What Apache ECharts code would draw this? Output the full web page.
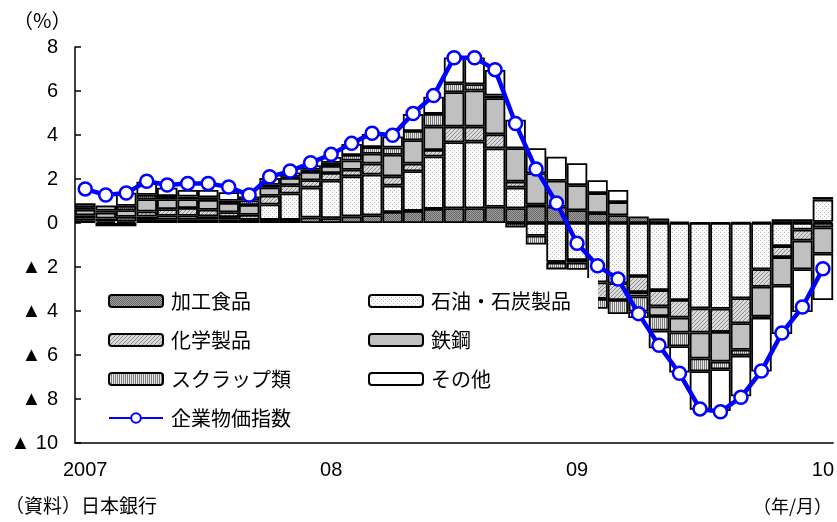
<!DOCTYPE html>
<html><head><meta charset="utf-8">
<script src="https://cdn.jsdelivr.net/npm/echarts/dist/echarts.min.js"></script>
<style>html,body{margin:0;padding:0;background:#fff}#c{width:837px;height:522px}</style>
</head><body><div id="c"></div>
<script>
// ---- data (contribution, %) ----
const months = ['2007/01','2007/02','2007/03','2007/04','2007/05','2007/06','2007/07','2007/08','2007/09','2007/10','2007/11','2007/12',
  '2008/01','2008/02','2008/03','2008/04','2008/05','2008/06','2008/07','2008/08','2008/09','2008/10','2008/11','2008/12',
  '2009/01','2009/02','2009/03','2009/04','2009/05','2009/06','2009/07','2009/08','2009/09','2009/10','2009/11','2009/12','2010/01'];
const yearLabels = ['2007','08','09','10'];
const food  = [0.10,0.08,0.08,0.14,0.15,0.15,0.15,0.15,0.12,0.14,0.14,0.25, 0.22,0.30,0.35,0.50,0.55,0.64,0.67,0.67,0.74,0.67,0.79,0.74, 0.58,0.45,0.35,0.30,0.20,0.05,0.02,0.02,0.03,0.05,0.17,0.17,0.06];
const oil   = [0.10,-0.15,-0.15,0.15,0.18,0.18,0.15,0.12,0.03,0.70,1.20,1.36, 1.70,1.82,1.85,1.20,1.80,2.38,3.00,3.03,2.65,0.94,-0.58,-1.76, -1.68,-2.70,-2.74,-2.41,-3.05,-3.50,-3.88,-3.90,-3.42,-2.10,-1.05,-0.30,1.00];
const chem  = [0.15,0.12,0.20,0.23,0.30,0.35,0.30,0.22,0.22,0.40,0.38,0.33, 0.35,0.30,0.50,0.42,0.35,0.30,0.71,0.68,0.64,0.27,0.05,-0.05, -0.12,-0.75,-0.76,-0.73,-0.74,-0.80,-1.10,-1.05,-1.14,-0.80,-0.50,-0.50,-0.20];
const steel = [0.25,0.27,0.30,0.56,0.45,0.40,0.45,0.42,0.45,0.38,0.33,0.38, 0.32,0.42,0.45,0.98,1.06,1.06,1.56,1.64,1.64,1.52,1.42,1.18, 1.14,0.91,0.60,-0.20,-0.44,-0.68,-1.18,-1.35,-1.20,-1.35,-1.30,-1.30,-1.20];
const scrap = [0.12,0.10,0.20,0.20,0.15,0.12,0.12,0.10,0.20,0.12,0.05,0.10, 0.15,0.25,0.30,0.33,0.42,0.58,0.41,0.29,0.12,-0.20,-0.40,-0.30, -0.33,-0.45,-0.64,-0.68,-0.66,-0.62,-0.58,-0.35,-0.27,-0.05,null,null,0.12];
const other = [0.18,0.22,0.60,0.60,0.37,0.30,0.33,0.39,0.18,0.30,0.20,0.20, 0.26,0.50,0.60,0.50,0.77,0.78,1.17,1.21,1.17,1.29,1.14,1.09, 1.00,0.58,0.55,-0.30,-0.80,-1.20,-1.75,-1.90,-1.85,-2.45,-2.20,-1.95,-2.10];
const cgpi  = [1.55,1.27,1.36,1.90,1.73,1.80,1.80,1.64,1.27,2.10,2.36,2.74, 3.12,3.62,4.08,3.99,4.98,5.79,7.51,7.51,6.97,4.52,2.45,0.91, -0.92,-1.94,-2.55,-4.12,-5.56,-6.83,-8.45,-8.58,-7.92,-6.73,-5.00,-3.82,-2.08];
const names = ['加工食品','石油・石炭製品','化学製品','鉄鋼','スクラップ類','その他','企業物価指数'];

// ---- fill patterns ----
function pat(w, h, bg, dots) {
  const c = document.createElement('canvas'); c.width = w; c.height = h;
  const g = c.getContext('2d'); g.fillStyle = bg; g.fillRect(0, 0, w, h);
  dots.forEach(d => { g.fillStyle = d[2]; g.fillRect(d[0], d[1], 1, 1); });
  return { image: c, repeat: 'repeat' };
}
const fills = [
  pat(2, 2, '#a0a0a0', [[0,0,'#666666'],[1,1,'#666666']]),
  pat(4, 4, '#fbfbfb', [[0,0,'#bcbcbc'],[2,2,'#bcbcbc']]),
  pat(4, 4, '#dadada', [[3,0,'#8c8c8c'],[2,1,'#8c8c8c'],[1,2,'#8c8c8c'],[0,3,'#8c8c8c']]),
  '#c0c0c0',
  pat(2, 1, '#e8e8e8', [[0,0,'#7a7a7a']]),
  '#ffffff'
];
const barData = [food, oil, chem, steel, scrap, other];

const jp = "'Noto Sans CJK JP', sans-serif";
const num = "'Liberation Sans', 'DejaVu Sans', sans-serif";

const series = barData.map((d, k) => ({
  name: names[k], type: 'bar', stack: 'total', data: d,
  barCategoryGap: '0%', barGap: '0%',
  itemStyle: { color: fills[k], borderColor: '#000', borderWidth: 1.8 },
  emphasis: { disabled: true }, z: 2
}));
series.push({
  name: names[6], type: 'line', data: cgpi, color: '#0000ff',
  symbol: 'circle', symbolSize: 13,
  itemStyle: { color: '#ffffff', borderColor: '#0000ff', borderWidth: 2.5 },
  lineStyle: { color: '#0000ff', width: 4.5 },
  emphasis: { disabled: true }, z: 4
});

const chart = echarts.init(document.getElementById('c'), null, { renderer: 'canvas' });
chart.setOption({
  animation: false,
  backgroundColor: '#fff',
  grid: { left: 75, right: 1, top: 47, bottom: 79 },
  title: [
    { text: '（%）', left: 8, top: 5, textStyle: { fontSize: 20, fontWeight: 'normal', color: '#000', fontFamily: jp } },
    { text: '（資料）日本銀行', left: 0, bottom: 2, textStyle: { fontSize: 19, fontWeight: 'normal', color: '#000', fontFamily: jp } },
    { text: '（年/月）', right: 0, bottom: 2, textStyle: { fontSize: 18, fontWeight: 'normal', color: '#000', fontFamily: jp } }
  ],
  xAxis: {
    type: 'category', data: months, boundaryGap: true,
    axisLine: { onZero: false, lineStyle: { color: '#000', width: 1.5 } },
    axisTick: { interval: (i) => i % 12 === 0, length: 6, lineStyle: { color: '#000', width: 1.5 } },
    axisLabel: { interval: (i) => i % 12 === 0, formatter: (v, i) => yearLabels[i / 12], color: '#000', fontSize: 20, fontFamily: num, margin: 17 },
    splitLine: { show: false }
  },
  yAxis: {
    type: 'value', min: -10, max: 8, interval: 2,
    axisLine: { show: true, lineStyle: { color: '#000', width: 1.5 } },
    axisTick: { show: true, inside: true, length: 6, lineStyle: { color: '#000', width: 1.5 } },
    axisLabel: { formatter: (v) => v < 0 ? '▲ ' + (-v) : String(v), color: '#000', fontSize: 20, fontFamily: num, margin: 17 },
    splitLine: { show: false }
  },
  legend: [
    { orient: 'vertical', left: 108, top: 291, padding: 0, itemWidth: 54, itemHeight: 12, itemGap: 19, selectedMode: false, z: 6,
      data: [names[0], names[2], names[4], names[6]],
      textStyle: { fontSize: 20, lineHeight: 20, color: '#000', fontFamily: jp, padding: [0, 0, 0, 3] } },
    { orient: 'vertical', left: 368, top: 291, padding: 0, itemWidth: 54, itemHeight: 12, itemGap: 19, selectedMode: false, z: 6,
      data: [names[1], names[3], names[5]],
      textStyle: { fontSize: 20, lineHeight: 20, color: '#000', fontFamily: jp, padding: [0, 0, 0, 3] } }
  ],
  graphic: [
    { type: 'rect', left: 100, top: 278, shape: { width: 498, height: 154 }, style: { fill: '#ffffff' }, z: 3 }
  ],
  series: series
});
</script></body></html>
